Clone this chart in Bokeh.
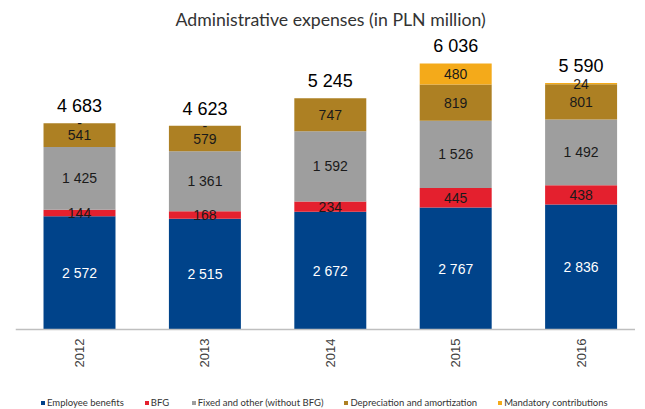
import numpy as np
from bokeh.plotting import figure
from bokeh.models import Range1d, FixedTicker, ColumnDataSource, Legend, LegendItem
from bokeh.core.properties import value
from bokeh.embed import file_html
from bokeh.resources import INLINE

# ---- data ----
years = ["2012", "2013", "2014", "2015", "2016"]
employee = [2572, 2515, 2672, 2767, 2836]
bfg = [144, 168, 234, 445, 438]
fixed = [1425, 1361, 1592, 1526, 1492]
depreciation = [541, 579, 747, 819, 801]
mandatory = [0, 0, 0, 480, 24]
mandatory_labels = ["-", "-", "", "480", "24"]
totals = [4683, 4623, 5245, 6036, 5590]

series_names = ["Employee benefits", "BFG", "Fixed and other (without BFG)",
                "Depreciation and amortization", "Mandatory contributions"]
keys = ["employee", "bfg", "fixed", "depreciation", "mandatory"]
colors = ["#00438A", "#E4202E", "#9E9E9E", "#AD8023", "#F4AA1A"]
label_colors = ["#FFFFFF", "#1A1A1A", "#1A1A1A", "#1A1A1A", "#1A1A1A"]


def fmt(v):
    return f"{v:,}".replace(",", " ")


x = list(range(len(years)))
src = ColumnDataSource(dict(x=x, employee=employee, bfg=bfg, fixed=fixed,
                            depreciation=depreciation, mandatory=mandatory))

p = figure(frame_width=620, frame_height=374,
           min_border_left=15, min_border_right=0, min_border_top=0, min_border_bottom=0,
           x_range=Range1d(-0.5104, 4.4338), y_range=Range1d(-1815, 6671),
           y_axis_location=None, toolbar_location=None, output_backend="svg",
           title="Administrative expenses (in PLN million)")

p.title.align = "left"
p.title.offset = 160
p.title.text_font = "Lato"
p.title.text_font_size = "17.7px"
p.title.text_font_style = "normal"
p.title.text_color = "#333333"
p.title.standoff = 12

p.outline_line_color = None
p.xgrid.visible = False
p.ygrid.visible = False
p.background_fill_color = "white"

renderers = p.vbar_stack(keys, x="x", width=0.574, color=colors, line_color=None,
                         source=src)

# segment labels
bottom = np.zeros(len(years))
all_series = [employee, bfg, fixed, depreciation, mandatory]
for i, vals in enumerate(all_series):
    vals = np.array(vals, dtype=float)
    mids = bottom + vals / 2
    if keys[i] == "mandatory":
        texts = mandatory_labels
    else:
        texts = [fmt(v) for v in all_series[i]]
    p.text(x=x, y=list(mids), text=texts, text_align="center", text_baseline="middle",
           text_font=value("Liberation Sans"), text_font_size="14px",
           text_color=label_colors[i])
    bottom = bottom + vals

# totals
p.text(x=x, y=list(bottom), text=[fmt(t) for t in totals], y_offset=-17,
       text_align="center", text_baseline="middle",
       text_font=value("Liberation Sans"), text_font_size="18px", text_color="#000000")

# x axis (drawn at value 0 inside the frame)
xa = p.xaxis[0]
xa.fixed_location = 0
xa.ticker = FixedTicker(ticks=x)
xa.major_label_overrides = {i: y for i, y in enumerate(years)}
xa.major_label_orientation = np.pi / 2
xa.major_label_text_font = "Liberation Sans"
xa.major_label_text_font_size = "13px"
xa.major_label_text_color = "#404040"
xa.major_label_standoff = 9
xa.major_tick_out = 0
xa.major_tick_in = 0
xa.major_tick_line_color = None
xa.minor_tick_line_color = None
xa.axis_line_color = "#BFBFBF"
xa.axis_line_width = 1.5

# legend
lg = Legend(items=[LegendItem(label=n, renderers=[r]) for n, r in zip(series_names, renderers)])
lg.orientation = "horizontal"
lg.location = (25, 1)
lg.glyph_width = 5
lg.glyph_height = 5
lg.label_standoff = 2
lg.spacing = 20
lg.label_text_font = "Lato"
lg.label_text_font_size = "9.5px"
lg.label_text_color = "#333333"
lg.label_height = 10
lg.padding = 0
lg.margin = 0
lg.border_line_color = None
lg.background_fill_alpha = 0
p.add_layout(lg)

open("out.html", "w").write(file_html(p, INLINE))
